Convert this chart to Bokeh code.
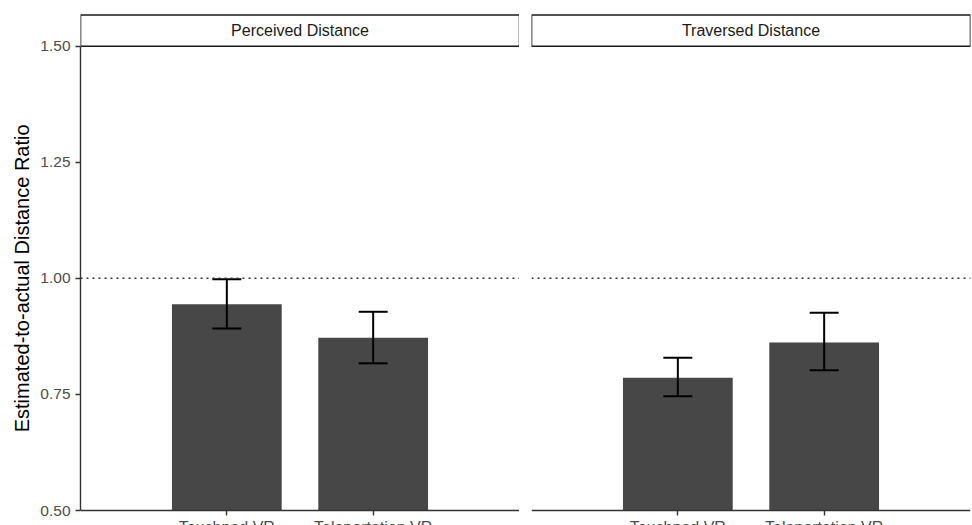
from math import pi

from bokeh.core.properties import value
from bokeh.embed import file_html
from bokeh.layouts import row
from bokeh.models import (ColumnDataSource, FixedTicker, LinearAxis,
                          PrintfTickFormatter, Range1d, Span, TeeHead, Whisker)
from bokeh.plotting import figure
from bokeh.resources import INLINE

# ---------------- data ----------------
PANELS = ["Perceived Distance", "Traversed Distance"]
CONDITIONS = ["Touchpad VR", "Teleportation VR"]

PERCEIVED_MEAN = [0.944, 0.872]
PERCEIVED_LOWER = [0.892, 0.817]
PERCEIVED_UPPER = [0.998, 0.928]

TRAVERSED_MEAN = [0.786, 0.862]
TRAVERSED_LOWER = [0.746, 0.802]
TRAVERSED_UPPER = [0.829, 0.926]

Y_TICKS = [0.50, 0.75, 1.00, 1.25, 1.50]
REFERENCE_RATIO = 1.0
Y_TITLE = "Estimated-to-actual Distance Ratio"

# ---------------- style ----------------
FONT = "Liberation Sans"
Y_MIN, Y_MAX = Y_TICKS[0], Y_TICKS[-1]
STRIP_TOP = Y_MAX + 0.0672     # facet strip drawn above the panel
FRAME_TOP = Y_MAX + 0.0704
FRAME_BOTTOM = Y_MIN - 0.0323  # room under the axis for the category names
LABEL_GAP = 0.0183
BAR_COLOR = "#474747"
AXIS_COLOR = "#333333"
TEXT_GREY = "#4d4d4d"
HEIGHT = 525
BORDER_TOP = 13
X_POS = list(range(1, len(CONDITIONS) + 1))


def base_figure(width, left_border, right_border, x_range):
    f = figure(
        width=width, height=HEIGHT,
        x_range=x_range, y_range=Range1d(FRAME_BOTTOM, FRAME_TOP),
        output_backend="svg", toolbar_location=None,
        x_axis_location=None, y_axis_location=None,
        min_border_left=left_border, min_border_right=right_border,
        min_border_top=BORDER_TOP, min_border_bottom=0,
    )
    f.grid.visible = False
    f.outline_line_color = None
    f.background_fill_color = "white"
    f.border_fill_color = "white"
    return f


def make_title_column(width):
    t = base_figure(width, 0, 0, Range1d(0, 1))
    t.text(x=[0.6], y=[(Y_MIN + Y_MAX) / 2], text=[Y_TITLE], angle=pi / 2,
           text_align="center", text_baseline="middle",
           text_font=value(FONT), text_font_size="20px", text_color="black")
    return t


def make_panel(name, means, lows, ups, width, left_border, right_border, show_y):
    p = base_figure(width, left_border, right_border, Range1d(0, len(CONDITIONS) + 1))

    # x axis at y = 0.50 (line + ticks; category names drawn as text below)
    xa = LinearAxis(ticker=FixedTicker(ticks=X_POS), fixed_location=Y_MIN)
    xa.major_label_overrides = {x: "" for x in X_POS}
    xa.major_label_text_font_size = "1px"
    xa.major_label_standoff = 0
    xa.axis_line_color = AXIS_COLOR
    xa.axis_line_width = 1.4
    xa.major_tick_line_color = AXIS_COLOR
    xa.major_tick_line_width = 1.4
    xa.major_tick_out = 5
    xa.major_tick_in = 0
    xa.minor_tick_line_color = None
    p.add_layout(xa, "below")

    if show_y:
        ya = LinearAxis(ticker=FixedTicker(ticks=Y_TICKS),
                        formatter=PrintfTickFormatter(format="%.2f"))
        ya.bounds = (Y_MIN, Y_MAX)
        ya.axis_line_color = AXIS_COLOR
        ya.axis_line_width = 1.4
        ya.major_tick_line_color = AXIS_COLOR
        ya.major_tick_line_width = 1.4
        ya.major_tick_out = 5
        ya.major_tick_in = 0
        ya.minor_tick_line_color = None
        ya.major_label_text_font = FONT
        ya.major_label_text_font_size = "15.5px"
        ya.major_label_text_color = TEXT_GREY
        ya.major_label_standoff = 5
        p.add_layout(ya, "left")

    # facet strip
    p.quad(left=[0], right=[len(CONDITIONS) + 1], bottom=[Y_MAX], top=[STRIP_TOP],
           fill_color="white", line_color="#1a1a1a", line_width=1.6)
    p.text(x=[(len(CONDITIONS) + 1) / 2], y=[(Y_MAX + STRIP_TOP) / 2], text=[name],
           text_align="center", text_baseline="middle",
           text_font=value(FONT), text_font_size="16px", text_color="#1a1a1a")

    # bars
    p.vbar(x=X_POS, top=means, bottom=Y_MIN, width=0.75,
           fill_color=BAR_COLOR, line_color=None)

    # error bars
    src = ColumnDataSource(dict(x=X_POS, lower=lows, upper=ups))
    p.add_layout(Whisker(
        base="x", lower="lower", upper="upper", source=src, level="annotation",
        line_color="black", line_width=2,
        upper_head=TeeHead(size=29, line_color="black", line_width=2),
        lower_head=TeeHead(size=29, line_color="black", line_width=2),
    ))

    # reference line
    p.add_layout(Span(location=REFERENCE_RATIO, dimension="width", level="overlay",
                      line_color=AXIS_COLOR, line_dash="2 4", line_width=1.5))

    # category names under the axis
    p.text(x=X_POS, y=[Y_MIN - LABEL_GAP] * len(X_POS), text=CONDITIONS,
           text_align="center", text_baseline="top",
           text_font=value(FONT), text_font_size="16px", text_color=TEXT_GREY)
    return p


t0 = make_title_column(36)
p1 = make_panel(PANELS[0], PERCEIVED_MEAN, PERCEIVED_LOWER, PERCEIVED_UPPER,
                width=483, left_border=44, right_border=0, show_y=True)
p2 = make_panel(PANELS[1], TRAVERSED_MEAN, TRAVERSED_LOWER, TRAVERSED_UPPER,
                width=453, left_border=12, right_border=2, show_y=False)

layout = row(t0, p1, p2)
open("out.html", "w").write(file_html(layout, INLINE))
